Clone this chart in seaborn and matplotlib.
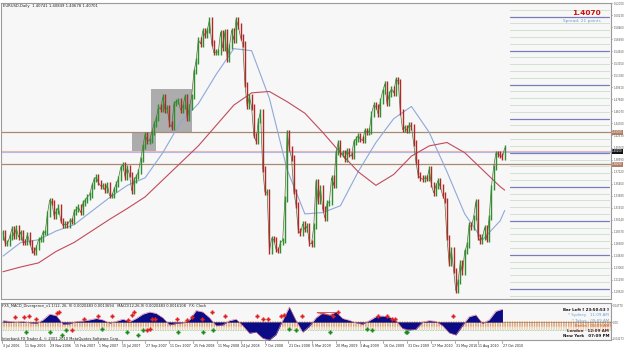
import numpy as np
import pandas as pd
import matplotlib
matplotlib.use("Agg")
import matplotlib.pyplot as plt
import seaborn as sns
from matplotlib.patches import Rectangle

# ---------------- data (weekly closes) ----------------
start_open = 1.2760
close = [
    # 2006 Jul-Dec
    1.2820, 1.2670, 1.2670, 1.2760, 1.2880, 1.2770, 1.2890, 1.2760,
    1.2830, 1.2690, 1.2680, 1.2800, 1.2680, 1.2570, 1.2530, 1.2610, 1.2720,
    1.2730, 1.2830, 1.2830, 1.3100, 1.3300, 1.3270, 1.3070, 1.3140, 1.3200,
    # 2007
    1.3000, 1.2930, 1.2950, 1.2940, 1.3000, 1.2990, 1.3130, 1.3170,
    1.3200, 1.3120, 1.3260, 1.3300, 1.3350, 1.3380, 1.3510, 1.3610, 1.3640,
    1.3560, 1.3510, 1.3510, 1.3450, 1.3530, 1.3370, 1.3370, 1.3460, 1.3540,
    1.3620, 1.3780, 1.3820, 1.3640, 1.3780, 1.3680, 1.3440, 1.3600, 1.3650,
    1.3720, 1.3900, 1.4090, 1.4270, 1.4170, 1.4180, 1.4300, 1.4420,
    1.4500, 1.4670, 1.4640, 1.4820, 1.4630, 1.4660, 1.4420, 1.4380, 1.4720,
    # 2008
    1.4750, 1.4760, 1.4630, 1.4680, 1.4830, 1.4500, 1.4670, 1.4830, 1.5190,
    1.5350, 1.5660, 1.5600, 1.5790, 1.5720, 1.5800, 1.5950, 1.5610,
    1.5470, 1.5480, 1.5480, 1.5770, 1.5540, 1.5780, 1.5380, 1.5560, 1.5800,
    1.5660, 1.5960, 1.5860, 1.5700, 1.5600, 1.5000, 1.4680, 1.4830, 1.4670,
    1.4250, 1.4170, 1.4470, 1.4600, 1.3760, 1.3420, 1.3420, 1.2550, 1.2740,
    1.2720, 1.2580, 1.2560, 1.2680, 1.2710, 1.3320, 1.4300, 1.4060,
    # 2009
    1.3920, 1.3430, 1.3230, 1.2860, 1.2810, 1.2950, 1.2870, 1.2920, 1.2670,
    1.2660, 1.2920, 1.3580, 1.3280, 1.3480, 1.3180, 1.3040, 1.3260,
    1.3270, 1.3630, 1.3520, 1.4000, 1.4150, 1.3970, 1.4000, 1.3910, 1.4030,
    1.3970, 1.3950, 1.4160, 1.4200, 1.4250, 1.4200, 1.4180, 1.4330, 1.4300,
    1.4320, 1.4570, 1.4700, 1.4680, 1.4570, 1.4760, 1.4900, 1.5010, 1.4720,
    1.4860, 1.4940, 1.4880, 1.5080, 1.5050, 1.4600, 1.4340, 1.4370,
    # 2010
    1.4330, 1.4410, 1.4380, 1.4140, 1.3870, 1.3670, 1.3630, 1.3610, 1.3630,
    1.3620, 1.3760, 1.3530, 1.3410, 1.3510, 1.3590, 1.3500, 1.3380, 1.3300,
    1.2750, 1.2370, 1.2570, 1.2270, 1.1970, 1.2110, 1.2380, 1.2240,
    1.2550, 1.2640, 1.2940, 1.2910, 1.3050, 1.3280, 1.2760, 1.2700, 1.2760,
    1.2900, 1.2720, 1.3050, 1.3490, 1.3780, 1.3990, 1.3980, 1.3960, 1.3940,
    1.4070,
]

ma_weeks = [0, 8, 16, 24, 32, 40, 48, 56, 64, 72, 80, 88, 96, 104, 112,
            120, 128, 136, 144, 152, 160, 168, 176, 184, 192, 200, 208, 216, 224, 226]
ma_fast = [1.248, 1.268, 1.272, 1.285, 1.294, 1.314, 1.334, 1.352, 1.363, 1.400,
           1.445, 1.472, 1.515, 1.553, 1.550, 1.480, 1.375, 1.310, 1.312, 1.322,
           1.372, 1.415, 1.450, 1.468, 1.430, 1.372, 1.310, 1.272, 1.300, 1.315]
ma_slow = [1.225, 1.232, 1.238, 1.255, 1.268, 1.285, 1.302, 1.318, 1.335, 1.360,
           1.385, 1.410, 1.440, 1.470, 1.488, 1.490, 1.475, 1.458, 1.430, 1.400,
           1.372, 1.352, 1.368, 1.395, 1.410, 1.415, 1.400, 1.375, 1.350, 1.345]

# MACD sampled every 3 weeks
macd_weeks = list(range(0, 226, 3))
macd = [0.004, 0.002, 0.000, 0.002, -0.002, -0.004, 0.006, 0.022, 0.018, -0.006,
        -0.005, 0.002, 0.003, 0.006, 0.010, 0.006, -0.003, 0.002, 0.008, 0.001,
        0.010, 0.022, 0.028, 0.024, 0.012, -0.008, -0.004, -0.002, 0.006, 0.032,
        0.028, 0.012, -0.010, -0.008, 0.004, 0.008, -0.010, -0.031, -0.028, -0.045,
        -0.050, -0.035, 0.005, 0.042, 0.004, -0.028, -0.012, 0.012, 0.026, 0.020,
        0.028, 0.010, 0.005, -0.002, -0.006, 0.004, 0.015, 0.017, 0.014, 0.004,
        -0.018, -0.022, -0.020, 0.000, 0.004, 0.002, -0.010, -0.030, -0.036, -0.010,
        0.015, 0.020, -0.004, 0.006, 0.030, 0.036]

# divergence markers (week, value)
red_mark_w = [5.4, 9.5, 11.7, 14.9, 24.3, 25.2, 31.1, 36.4, 42.8, 49.0, 56.3, 58.1,
              59.0, 64.9, 66.0, 67.1, 68.7, 78.4, 82.9, 85.1, 89.6, 94.1, 100.0,
              114.4, 117.1, 119.4, 125.2, 126.6, 134.7, 148.6, 150.9, 168.9, 173.0,
              175.2, 176.6, 202.7]
red_mark_v = [0.014, 0.014, 0.017, 0.008, 0.025, 0.028, -0.022, 0.008, 0.017, 0.017,
              0.006, 0.020, 0.028, -0.022, -0.020, 0.008, 0.008, 0.008, 0.006, 0.014,
              0.008, 0.028, 0.017, 0.017, 0.008, 0.008, 0.017, 0.020, 0.017, 0.017,
              0.028, 0.017, 0.017, 0.008, 0.008, 0.017]
green_mark_w = [10.4, 21.2, 26.6, 28.4, 44.6, 55.9, 60.8, 63.1, 78.8, 90.1, 94.6,
                128.8, 131.9, 147.3, 163.9, 166.2, 181.9, 181.5]
green_mark_v = [-0.028, -0.028, -0.036, -0.022, -0.020, -0.028, -0.036, -0.022, -0.028,
                -0.028, -0.022, -0.020, -0.022, -0.028, -0.020, -0.022, -0.028, -0.028]

date_labels = ["3 Jul 2006", "11 Sep 2006", "29 Nov 2006", "15 Feb 2007", "1 May 2007",
               "15 Jul 2007", "27 Sep 2007", "11 Dec 2007", "25 Feb 2008", "11 May 2008",
               "24 Jul 2008", "7 Oct 2008", "21 Dec 2008", "5 Mar 2009", "20 May 2009",
               "3 Aug 2009", "16 Oct 2009", "31 Dec 2009", "17 Mar 2010", "31 May 2010",
               "11 Aug 2010", "27 Oct 2010"]

hlines_brown = [1.4300, 1.3829]
current_price = 1.4070
box1 = (58.1, 68.9, 1.4025, 1.4304)
box2 = (66.7, 85.1, 1.4304, 1.4937)

# ---------------- figure ----------------
W, H = 625, 349
sns.set_theme(style="white")
plt.rcParams["font.family"] = ["DejaVu Sans"]
fig = plt.figure(figsize=(W / 100, H / 100), dpi=100)
fig.patch.set_facecolor("white")


def ax_px(x0, y0, x1, y1):
    return fig.add_axes([x0 / W, 1 - y1 / H, (x1 - x0) / W, (y1 - y0) / H])


ax = ax_px(1, 3, 611, 299)
ax.set_facecolor("#f7f7f7")
XL = (-0.9, 273.9)
ax.set_xlim(*XL)
ax.set_ylim(1.1849, 1.6201)

idx = np.arange(len(close))
prev = np.r_[start_open, close[:-1]]
cl = np.array(close)
lo = np.minimum(prev, cl)
hi = np.maximum(prev, cl)
cols = np.where(cl >= prev, "#2f8f2f", "#b02828")

# boxes
for (a, b, c, d) in (box1, box2):
    ax.add_patch(Rectangle((a, c), b - a, d - c, facecolor="#acacac", edgecolor="none", zorder=1))

# right-hand grid region
xr0 = (510 - 1) / 610
for lev in np.round(np.arange(1.19, 1.625, 0.01), 2):
    if abs(lev * 100 % 5) < 1e-6 or abs(lev * 100 % 5 - 5) < 1e-6:
        ax.axhline(lev, xr0, 0.997, color="#7b7bb8", lw=0.9, zorder=2)
    else:
        ax.axhline(lev, xr0, 0.997, color="#9cc79c", lw=0.6, ls=(0, (1.2, 1.2)), zorder=2)

for lev in hlines_brown:
    ax.axhline(lev, color="#a88a72", lw=0.9, zorder=2)
ax.axhline(current_price - 0.0045, color="#e4b9b9", lw=0.8, zorder=2)
ax.axhline(1.4006, color="#b8b8e0", lw=0.8, zorder=2)

ax.plot(idx, cl, color="#5a6a3a", lw=0.5, zorder=4)
ax.vlines(idx, lo - 0.004, hi + 0.004, colors=cols, lw=1.0, zorder=5)

sns.lineplot(x=ma_weeks, y=ma_fast, ax=ax, color="#8ea9d8", lw=0.8, zorder=3)
sns.lineplot(x=ma_weeks, y=ma_slow, ax=ax, color="#c24a5c", lw=0.8, zorder=3)

ax.set_xticks([])
ax.yaxis.tick_right()
yt = np.arange(1.6200, 1.185, -0.0177)
ax.set_yticks(yt)
ax.set_yticklabels([f"{v:.5f}" for v in yt], fontsize=1.9, color="#555555")
ax.tick_params(axis="y", length=1.0, width=0.5, pad=0.6, colors="#555555")
ax.set_xlabel("")
ax.set_ylabel("")
for s in ax.spines.values():
    s.set_color("#9a9a9a")
    s.set_linewidth(0.8)

ax.text(0.003, 0.995, "EURUSD,Daily  1.40741 1.40849 1.40678 1.40701", transform=ax.transAxes,
        fontsize=2.7, va="top", ha="left", color="#222222")
ax.text(0.983, 0.975, "1.4070", transform=ax.transAxes, fontsize=5.3, fontweight="bold",
        color="#cc1111", ha="right", va="top")
ax.text(0.983, 0.945, "Spread: 21 points", transform=ax.transAxes, fontsize=3.1,
        color="#6f9fd8", ha="right", va="top")

# price marker boxes on right axis
for lev, fc in ((1.4300, "#b07e64"), (1.4020, "#111111"), (1.3829, "#b07e64")):
    ax.annotate(f"{lev:.5f}", xy=(1.0, lev), xycoords=("axes fraction", "data"),
                xytext=(0.8, 0), textcoords="offset points", fontsize=1.9, color="white",
                va="center", ha="left",
                bbox=dict(boxstyle="square,pad=0.2", fc=fc, ec="none"), annotation_clip=False)

# ---------------- indicator panel ----------------
ax2 = ax_px(1, 303, 611, 340)
ax2.set_facecolor("#f7f7f7")
ax2.set_xlim(*XL)
ax2.set_ylim(-0.050, 0.053)
for yy, cc in ((-0.0012, "#e6a86a"), (-0.0040, "#d98a5a"), (-0.0068, "#e3b070"),
               (-0.0096, "#dba07a"), (-0.0124, "#e09a6a"), (-0.0152, "#e6c090"),
               (-0.0180, "#e8c8a0")):
    ax2.axhline(yy, color=cc, lw=1.1, ls=(0, (0.8, 0.8)), zorder=1)
ax2.axhline(-0.0222, color="#8fc68f", lw=0.6, ls=(0, (1, 1)), zorder=1)
ax2.fill_between(macd_weeks, 0, macd, color="#0b0b86", lw=0, zorder=3)
ax2.plot(macd_weeks, macd, color="#e07090", lw=0.4, zorder=3)
ax2.axhline(0, color="#777777", lw=0.4, zorder=2)
ax2.plot(red_mark_w, red_mark_v, ls="none", marker="P", ms=2.6, color="#e02020",
         mec="#e02020", mew=0.3, zorder=5)
ax2.plot(green_mark_w, green_mark_v, ls="none", marker="P", ms=2.6, color="#1c8a1c",
         mec="#1c8a1c", mew=0.3, zorder=5)
ax2.plot([141.5, 150.9], [0.028, 0.028], color="#e04040", lw=0.6, zorder=4)
ax2.plot([141.5, 148.6], [0.026, 0.017], color="#e04040", lw=0.6, zorder=4)
ax2.set_xticks([])
ax2.yaxis.tick_right()
ax2.set_yticks([0.0465, 0.0, -0.046])
ax2.set_yticklabels(["0.04770", "0.00", "-0.04273"], fontsize=1.9, color="#555555")
ax2.tick_params(axis="y", length=1.0, width=0.5, pad=0.6, colors="#555555")
for s in ax2.spines.values():
    s.set_color("#9a9a9a")
    s.set_linewidth(0.8)
ax2.text(0.002, 0.97, "FX5_MACD_Divergence_v1.1(12, 26, 9) 0.0020483 0.0013694   "
         "MACD(12,26,9) 0.0020483 0.0016108   FX: Clock", transform=ax2.transAxes,
         fontsize=2.6, va="top", ha="left", color="#222222")

clock = [("Bar Left [ 23:50:53 ]", "#111111", "bold"), ("* Sydney   11:09 AM", "#6f9fd8", "normal"),
         ("* Tokyo   09:09 AM", "#6f9fd8", "normal"), ("Berlin   01:09 AM", "#cc6633", "normal"),
         ("London   12:09 AM", "#552222", "bold"), ("New York   07:09 PM", "#111111", "bold")]
for i, (t, c, fw) in enumerate(clock):
    ax2.text(0.997, 0.86 - i * 0.14, t, transform=ax2.transAxes, fontsize=2.9, ha="right",
             va="top", color=c, fontweight=fw, zorder=6)

# copyright + date axis
fig.text(2 / W, 1 - 341 / H, "Interbank FX Trader 4, \u00a9 2001-2010 MetaQuotes Software Corp.",
         fontsize=2.6, va="bottom", ha="left", color="#222222")
axd = ax_px(1, 341, 611, 349)
axd.set_xlim(*XL)
axd.set_ylim(0, 1)
axd.axis("off")
ref = pd.Timestamp("2006-07-05")
for lab in date_labels:
    w = (pd.Timestamp(lab) - ref).days / 7.0
    axd.plot([w, w], [0.75, 1.0], color="#555555", lw=0.4)
    axd.text(w + 0.2, 0.35, lab, fontsize=2.3, ha="left", va="center", color="#222222")

fig.savefig("out.png", dpi=100, facecolor="white")
